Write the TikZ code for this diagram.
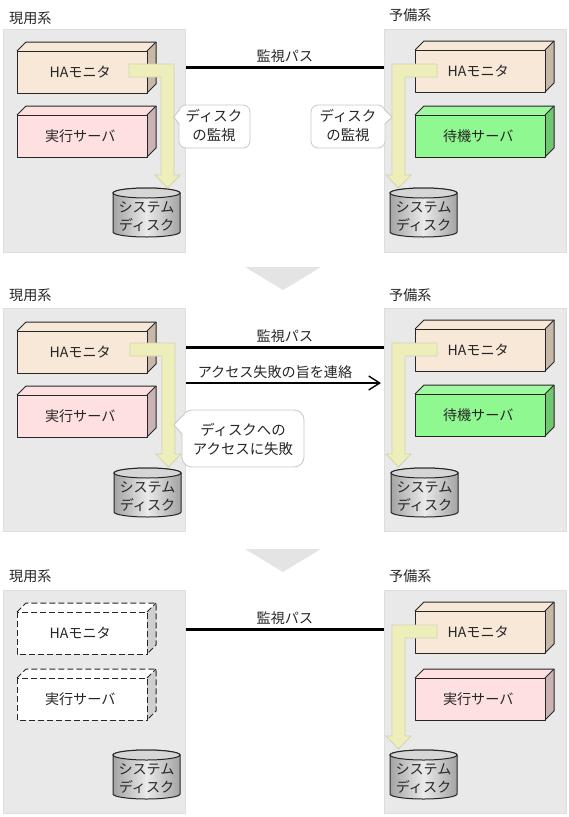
\documentclass[tikz,border=0pt]{standalone}
\usepackage{fontspec}
\setmainfont{Noto Sans CJK JP}
\usetikzlibrary{arrows.meta,calc}
\definecolor{panelc}{HTML}{E9E9E9}
\definecolor{panelb}{HTML}{DEDEDE}
\definecolor{hafront}{HTML}{F8E8D8}
\definecolor{haside}{HTML}{C8B8A8}
\definecolor{svfront}{HTML}{FFE0E0}
\definecolor{svside}{HTML}{CCB3B3}
\definecolor{grfront}{HTML}{90F890}
\definecolor{grtop}{HTML}{A0F8A0}
\definecolor{grside}{HTML}{70C870}
\definecolor{wside}{HTML}{CFCFCF}
\definecolor{arrowc}{HTML}{EEEEBB}
\definecolor{arrowb}{HTML}{D2D2B4}
\definecolor{triC}{HTML}{E4E4E4}
\definecolor{bubb}{HTML}{C8C8C8}
\tikzset{
  every node/.style={font=\fontsize{14.1}{18}\selectfont, inner sep=0pt, text=black!85},
  panelbox/.style={draw=panelb, fill=panelc, line width=0.8pt, minimum width=182pt, minimum height=223pt, anchor=north west},
  title/.style={anchor=west},
  front/.style={minimum width=130pt, minimum height=42pt, anchor=north west},
  edge3d/.style={line width=1pt, draw=black!85, line join=round},
  dashedge/.style={dash pattern=on 6pt off 3pt},
  monpath/.style={draw=arrowb, fill=arrowc, line width=0.8pt},
  bubble/.style={draw=bubb, fill=white, line width=0.8pt},
  bubtext/.style={align=center, font=\fontsize{14.4}{19}\selectfont},
  buspath/.style={line width=3pt, draw=black},
  msgline/.style={line width=1.4pt, draw=black, -{Straight Barb[length=11pt,width=14pt,line width=1.4pt]}},
  flowtri/.style={fill=triC, draw=none},
  cyllabel/.style={align=center, font=\fontsize{14.1}{18}\selectfont},
}
% name, x, y of front top-left, front fill, top fill, side fill, text, extra style
\newcommand{\threeD}[8]{%
  \fill[#5] (#2,#3) -- ++(9,-9) -- ++(130,0) -- ++(-9,9) -- cycle;
  \fill[#6] ($(#2,#3)+(130,0)$) -- ++(9,-9) -- ++(0,42) -- ++(-9,9) -- cycle;
  \fill[#4] (#2,#3) rectangle ++(130,42);
  \draw[edge3d,#8] (#2,#3) -- ++(9,-9) -- ++(130,0) -- ++(0,42) -- ++(-9,9);
  \draw[edge3d,#8] (#2+130,#3) -- ++(9,-9);
  \draw[edge3d,#8] (#2,#3) rectangle ++(130,42);
  \node[front] (#1) at (#2,#3) {};
  \node at ($(#1.center)+(-2,0)$) {#7};
}
% name, left x, top y
\newcommand{\diskCyl}[3]{%
  \path[left color=black!36, right color=black!36, middle color=black!8, draw=black!85, line width=1pt]
    (#2,#3+5) -- (#2,#3+44) arc[start angle=180,end angle=0,x radius=33.5,y radius=5]
    -- (#2+67,#3+5) arc[start angle=0,end angle=-180,x radius=33.5,y radius=5] -- cycle;
  \draw[fill=black!16, draw=black!85, line width=1pt] (#2+33.5,#3+5) ellipse[x radius=33.5,y radius=5];
  \node[cyllabel] (#1) at (#2+33.5,#3+29) {システム\\ディスク};
}
\newcommand{\monRight}[3]{% name, x of stub start, y top of band
  \path[monpath] (#2,#3) -- (#2+45,#3) -- (#2+45,#3+111) -- (#2+51,#3+111) -- (#2+38.5,#3+124)
    -- (#2+26,#3+111) -- (#2+32,#3+111) -- (#2+32,#3+13) -- (#2,#3+13) -- cycle;
  \coordinate (#1) at (#2+38,#3+111);
}
\newcommand{\monLeft}[3]{% name, x of stub end (right), y top of band
  \path[monpath] (#2,#3) -- (#2-45,#3) -- (#2-45,#3+111) -- (#2-51,#3+111) -- (#2-38.5,#3+124)
    -- (#2-26,#3+111) -- (#2-32,#3+111) -- (#2-32,#3+13) -- (#2,#3+13) -- cycle;
  \coordinate (#1) at (#2-38,#3+111);
}
\begin{document}
\begin{tikzpicture}[x=1pt,y=-1pt]
\useasboundingbox (0,0) rectangle (569,817);

% ---------- panel 1 ----------
\node[title] (t1l) at (9,18) {現用系};
\node[title] (t1r) at (389,15) {予備系};
\node[panelbox] (p1l) at (3,29) {};
\node[panelbox] (p1r) at (384,29) {};
\threeD{ha1l}{17}{51}{hafront}{hafront}{haside}{HAモニタ}{}
\threeD{sv1l}{17}{115}{svfront}{svfront}{svside}{実行サーバ}{}
\threeD{ha1r}{415}{50}{hafront}{hafront}{haside}{HAモニタ}{}
\threeD{sv1r}{415}{115}{grfront}{grtop}{grside}{待機サーバ}{}
\diskCyl{d1l}{113}{188}
\diskCyl{d1r}{390}{188}
\monRight{m1l}{129}{64}
\monLeft{m1r}{437}{64}
\coordinate (b1a) at (p1l.east |- 0,67);
\coordinate (b1b) at (p1r.west |- 0,67);
\draw[buspath] (b1a) -- node[above=3pt] (bl1) {監視パス} (b1b);
\path[bubble,rounded corners=7pt] (179,105) rectangle (250,148);
\fill[white] (180,110) -- (174,117) -- (180,124) -- cycle;
\draw[bubb,line width=0.8pt] (179,110) -- (174,117) -- (179,124);
\node[bubtext] (c1l) at (214,125) {ディスク\\の監視};
\path[bubble,rounded corners=7pt] (311,105) rectangle (385,148);
\fill[white] (384,110) -- (392,117) -- (384,124) -- cycle;
\draw[bubb,line width=0.8pt] (385,110) -- (392,117) -- (385,124);
\node[bubtext] (c1r) at (348,125) {ディスク\\の監視};

\fill[flowtri] (245,267) -- (321,267) -- (283,290) -- cycle;

% ---------- panel 2 ----------
\node[title] (t2l) at (9,295) {現用系};
\node[title] (t2r) at (389,295) {予備系};
\node[panelbox] (p2l) at (3,308) {};
\node[panelbox] (p2r) at (384,308) {};
\threeD{ha2l}{17}{331}{hafront}{hafront}{haside}{HAモニタ}{}
\threeD{sv2l}{17}{395}{svfront}{svfront}{svside}{実行サーバ}{}
\threeD{ha2r}{415}{329}{hafront}{hafront}{haside}{HAモニタ}{}
\threeD{sv2r}{415}{394}{grfront}{grtop}{grside}{待機サーバ}{}
\diskCyl{d2l}{114}{468}
\diskCyl{d2r}{391}{468}
\monRight{m2l}{130}{343}
\monLeft{m2r}{437}{343}
\coordinate (b2a) at (p2l.east |- 0,347);
\coordinate (b2b) at (p2r.west |- 0,347);
\draw[buspath] (b2a) -- node[above=3pt] (bl2) {監視パス} (b2b);
\coordinate (a2a) at (p2l.east |- 0,383);
\coordinate (a2b) at (381,383);
\draw[msgline] (a2a) -- (a2b);
\node (al2) at (275,372) {アクセス失敗の旨を連絡};
\path[bubble,rounded corners=10pt] (182,410) rectangle (304,467);
\fill[white] (183,416) -- (174,425) -- (183,434) -- cycle;
\draw[bubb,line width=0.8pt] (182,416) -- (174,425) -- (182,434);
\node[bubtext] (c2l) at (243,439) {ディスクへの\\アクセスに失敗};

\fill[flowtri] (245,549) -- (321,549) -- (283,572) -- cycle;

% ---------- panel 3 ----------
\node[title] (t3l) at (9,576) {現用系};
\node[title] (t3r) at (389,576) {予備系};
\node[panelbox] (p3l) at (3,590) {};
\node[panelbox] (p3r) at (384,590) {};
\threeD{ha3l}{17}{612}{white}{white}{wside}{HAモニタ}{dashedge}
\threeD{sv3l}{17}{678}{white}{white}{wside}{実行サーバ}{dashedge}
\threeD{ha3r}{415}{611}{hafront}{hafront}{haside}{HAモニタ}{}
\threeD{sv3r}{415}{678}{svfront}{svfront}{svside}{実行サーバ}{}
\diskCyl{d3l}{113}{750}
\diskCyl{d3r}{390}{750}
\monLeft{m3r}{437}{625}
\coordinate (b3a) at (p3l.east |- 0,629);
\coordinate (b3b) at (p3r.west |- 0,629);
\draw[buspath] (b3a) -- node[above=3pt] (bl3) {監視パス} (b3b);
\end{tikzpicture}
\end{document}
